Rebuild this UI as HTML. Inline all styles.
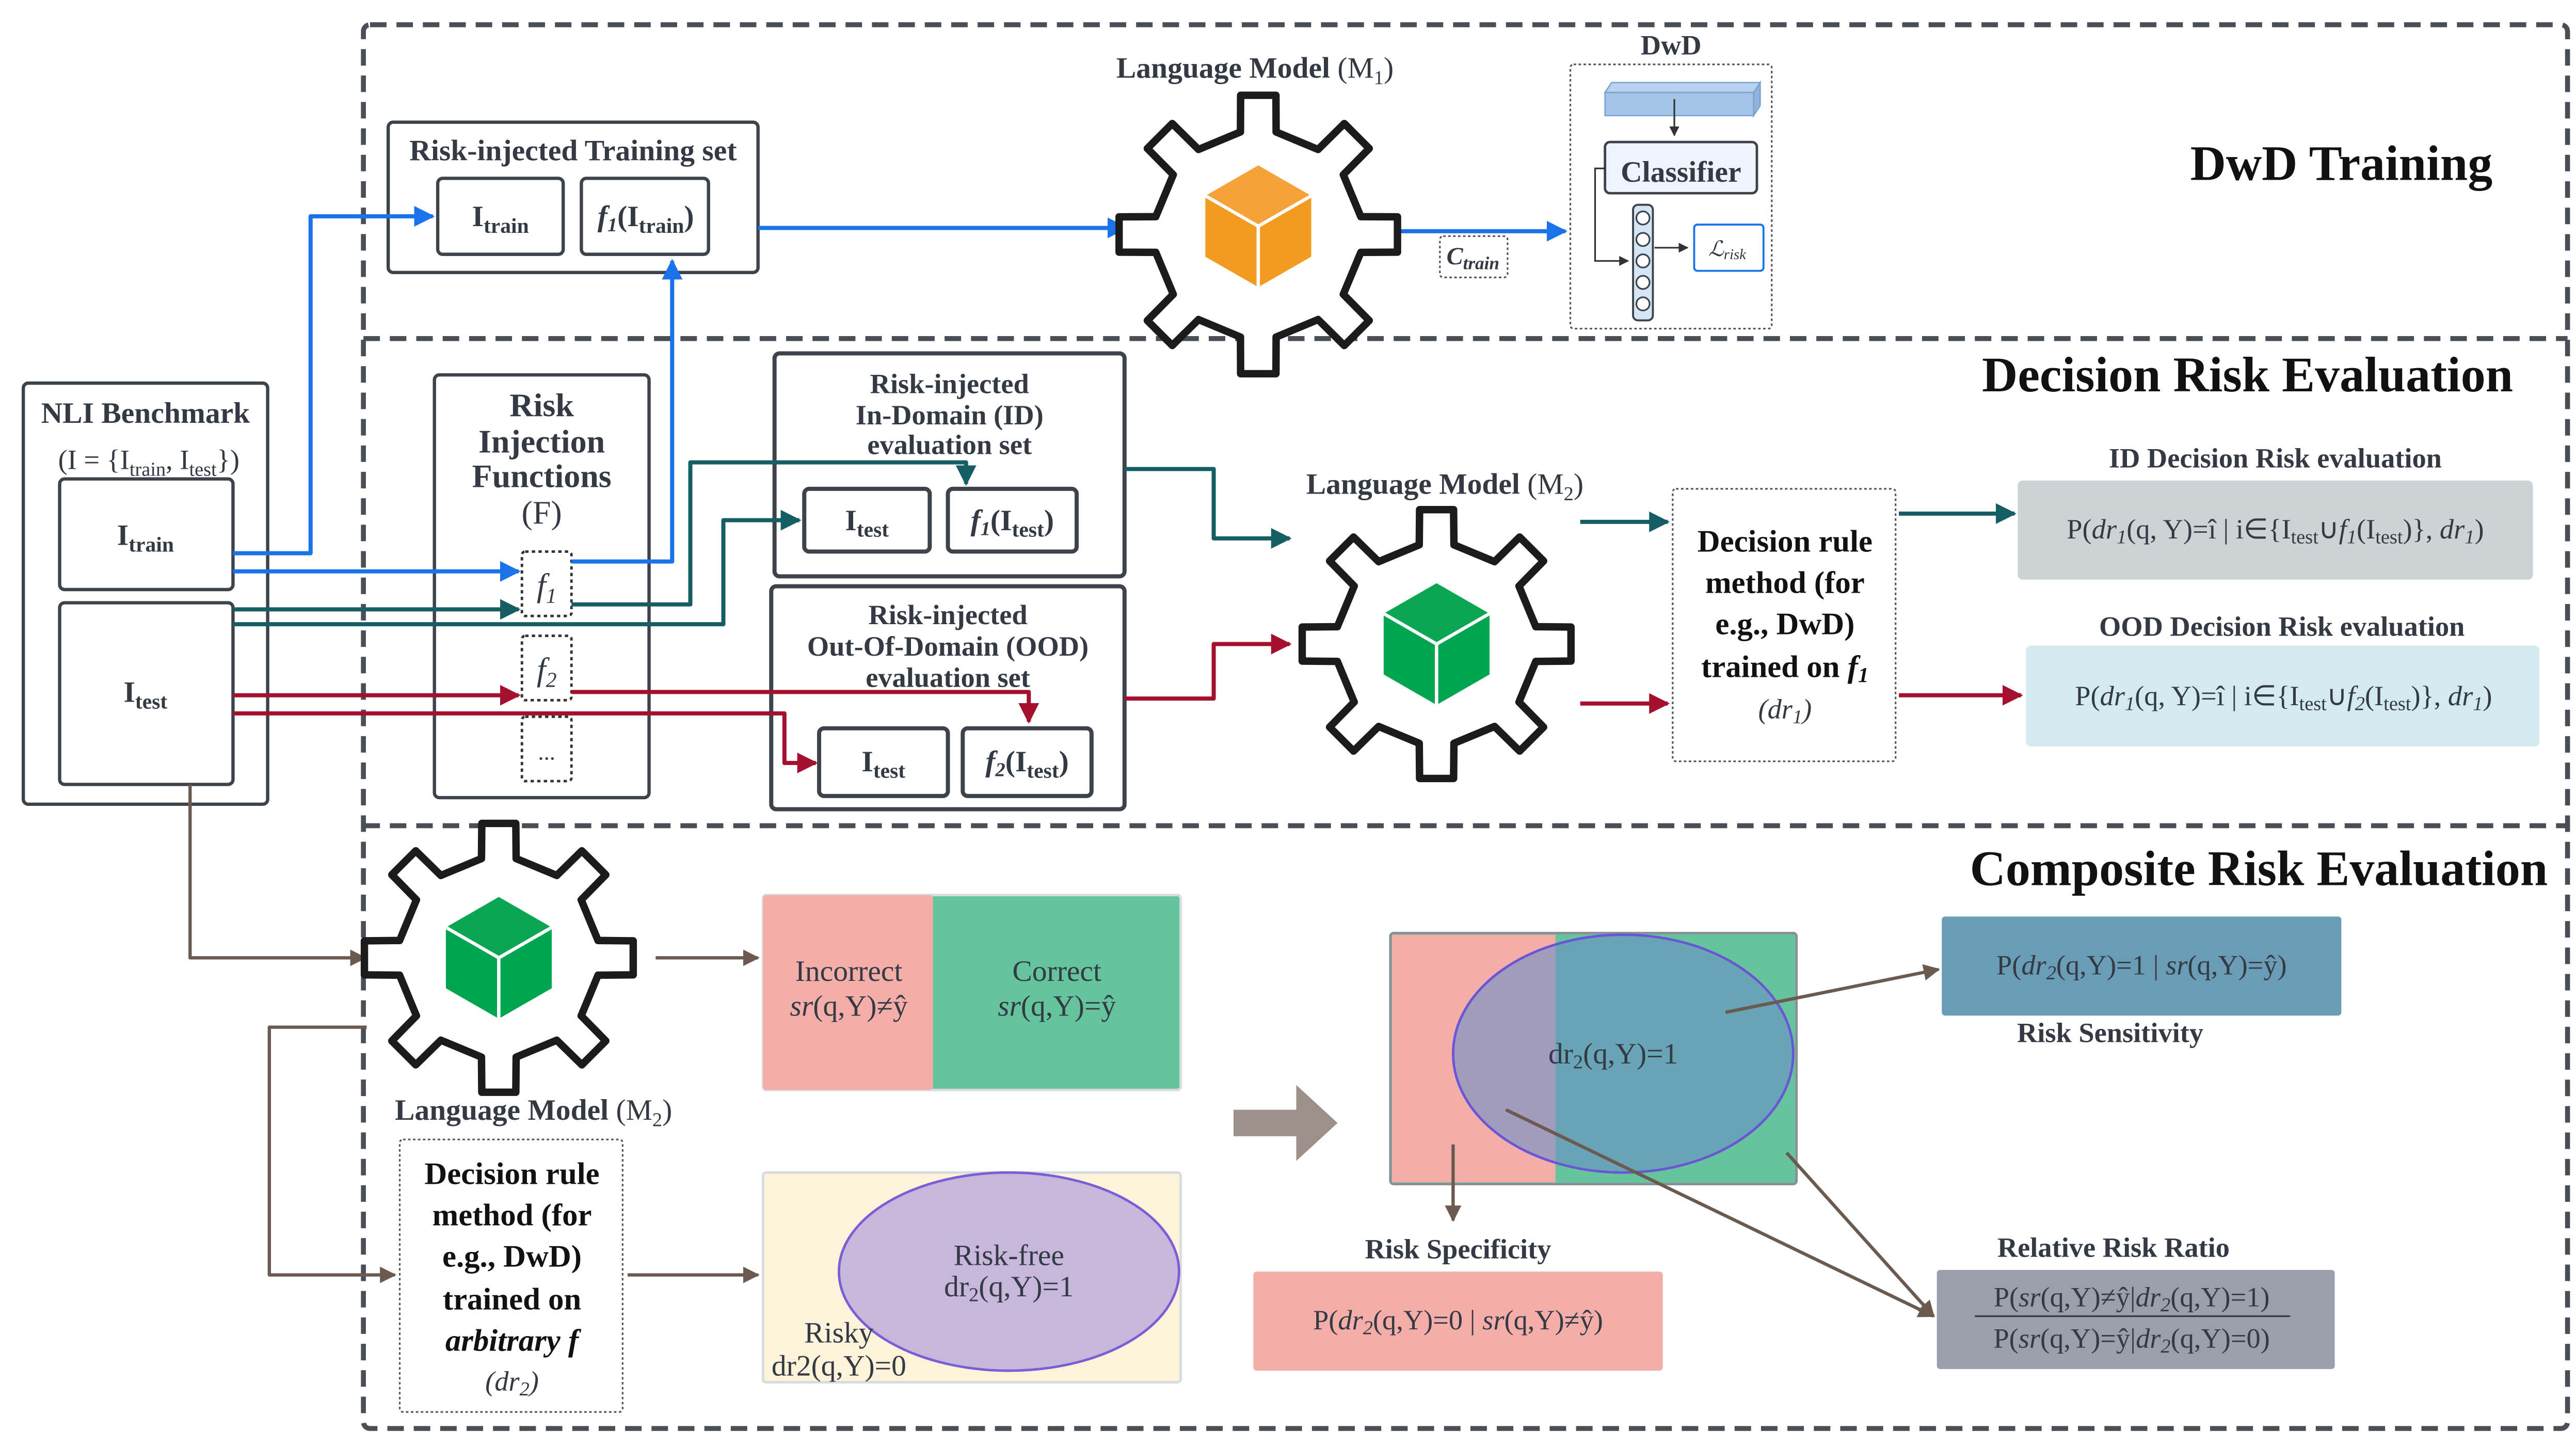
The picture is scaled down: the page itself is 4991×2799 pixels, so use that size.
<!DOCTYPE html>
<html><head><meta charset="utf-8"><style>
html,body{margin:0;padding:0;background:#fff;}
svg{display:block;font-family:"Liberation Serif",serif;}
.t{fill:#333a44;}
.b{font-weight:bold;}
</style></head><body>
<svg id="s" width="4991" height="2799" viewBox="0 0 1560 875" xmlns="http://www.w3.org/2000/svg">
<defs>
<marker id="ab" viewBox="0 0 10 10" refX="9" refY="5" markerWidth="5" markerHeight="5" orient="auto"><path d="M0,0L10,5L0,10z" fill="#1a73e8"/></marker>
<marker id="at" viewBox="0 0 10 10" refX="9" refY="5" markerWidth="5" markerHeight="5" orient="auto"><path d="M0,0L10,5L0,10z" fill="#155e63"/></marker>
<marker id="ar" viewBox="0 0 10 10" refX="9" refY="5" markerWidth="5" markerHeight="5" orient="auto"><path d="M0,0L10,5L0,10z" fill="#a3112e"/></marker>
<marker id="an" viewBox="0 0 10 10" refX="9" refY="5" markerWidth="5" markerHeight="5" orient="auto"><path d="M0,0L10,5L0,10z" fill="#6b5a50"/></marker>
<marker id="ak" viewBox="0 0 10 10" refX="9" refY="5" markerWidth="6" markerHeight="6" orient="auto"><path d="M0,0L10,5L0,10z" fill="#333"/></marker>
</defs>
<rect width="1560" height="875" fill="#fff"/>
<g fill="none" stroke="#4a4f57" stroke-width="3" stroke-dasharray="10 6">
<rect x="220" y="15" width="1335" height="850" rx="4"/>
<line x1="220" y1="205" x2="1555" y2="205"/>
<line x1="220" y1="500" x2="1555" y2="500"/>
</g>
<text x="1418" y="109" font-size="30" class="b" text-anchor="middle" fill="#111">DwD Training</text>
<text x="1522" y="237" font-size="30" class="b" text-anchor="end" fill="#111">Decision Risk Evaluation</text>
<text x="1543" y="536" font-size="30" class="b" text-anchor="end" fill="#111">Composite Risk Evaluation</text>

<g fill="none" stroke="#3d434b" stroke-width="2">
<rect x="14" y="232" width="148" height="255" rx="3"/>
<rect x="36" y="290" width="105" height="67" rx="3"/>
<rect x="36" y="365" width="105" height="110" rx="3"/>
<rect x="263" y="227" width="130" height="256" rx="3"/>
<rect x="235" y="74" width="224" height="91" rx="3"/>
<rect x="265" y="108" width="76" height="46" rx="3"/>
<rect x="352" y="108" width="77" height="46" rx="3"/>
<rect x="469" y="214" width="212" height="135" rx="3" stroke-width="2.5"/>
<rect x="487" y="296" width="76" height="38" rx="3" stroke-width="2.5"/>
<rect x="574" y="296" width="78" height="38" rx="3" stroke-width="2.5"/>
<rect x="467" y="355" width="214" height="135" rx="3" stroke-width="2.5"/>
<rect x="496" y="441" width="78" height="41" rx="3" stroke-width="2.5"/>
<rect x="583" y="441" width="78" height="41" rx="3" stroke-width="2.5"/>
</g>
<g fill="none" stroke="#333" stroke-width="1.5" stroke-dasharray="2 2">
<rect x="316" y="334" width="30" height="39" rx="2"/>
<rect x="316" y="385" width="30" height="39" rx="2"/>
<rect x="316" y="434" width="30" height="39" rx="2"/>
</g>
<g fill="none" stroke="#555" stroke-width="1" stroke-dasharray="1.5 1.5">
<rect x="951" y="39" width="122" height="160" rx="2"/>
<rect x="1013" y="296" width="135" height="165" rx="2"/>
<rect x="242" y="690" width="135" height="165" rx="2"/>
<rect x="872" y="143" width="41" height="25" rx="2"/>
</g>
<text x="88" y="256" font-size="18" class="b t" text-anchor="middle">NLI Benchmark</text>
<text x="90" y="284" font-size="17" class="t" text-anchor="middle">(I = {I<tspan font-size="12" dy="4">train</tspan><tspan dy="-4">, I</tspan><tspan font-size="12" dy="4">test</tspan><tspan dy="-4">})</tspan></text>
<text x="88" y="330" font-size="18" class="b t" text-anchor="middle">I<tspan font-size="13" dy="4">train</tspan></text>
<text x="88" y="425" font-size="18" class="b t" text-anchor="middle">I<tspan font-size="13" dy="4">test</tspan></text>
<g font-size="20" class="b t" text-anchor="middle">
<text x="328" y="252">Risk</text><text x="328" y="274">Injection</text><text x="328" y="295">Functions</text>
<text x="328" y="317" font-weight="normal">(F)</text></g>
<text x="331" y="361" font-size="20" font-style="italic" class="t" text-anchor="middle">f<tspan font-size="13" dy="4">1</tspan></text>
<text x="331" y="412" font-size="20" font-style="italic" class="t" text-anchor="middle">f<tspan font-size="13" dy="4">2</tspan></text>
<text x="331" y="460" font-size="14" class="t" text-anchor="middle">...</text>
<text x="347" y="97" font-size="18" class="b t" text-anchor="middle">Risk-injected Training set</text>
<text x="303" y="137" font-size="18" class="b t" text-anchor="middle">I<tspan font-size="13" dy="4">train</tspan></text>
<text x="391" y="137" font-size="18" class="b t" text-anchor="middle"><tspan font-style="italic">f<tspan font-size="12" dy="3">1</tspan></tspan><tspan dy="-3">(I</tspan><tspan font-size="13" dy="4">train</tspan><tspan dy="-4">)</tspan></text>
<g font-size="17" class="b t" text-anchor="middle">
<text x="575" y="238">Risk-injected</text><text x="575" y="257">In-Domain (ID)</text><text x="575" y="275">evaluation set</text>
<text x="574" y="378">Risk-injected</text><text x="574" y="397">Out-Of-Domain (OOD)</text><text x="574" y="416">evaluation set</text></g>
<text x="525" y="321" font-size="18" class="b t" text-anchor="middle">I<tspan font-size="13" dy="4">test</tspan></text>
<text x="613" y="321" font-size="18" class="b t" text-anchor="middle"><tspan font-style="italic">f<tspan font-size="12" dy="3">1</tspan></tspan><tspan dy="-3">(I</tspan><tspan font-size="13" dy="4">test</tspan><tspan dy="-4">)</tspan></text>
<text x="535" y="467" font-size="18" class="b t" text-anchor="middle">I<tspan font-size="13" dy="4">test</tspan></text>
<text x="622" y="467" font-size="18" class="b t" text-anchor="middle"><tspan font-style="italic">f<tspan font-size="12" dy="3">2</tspan></tspan><tspan dy="-3">(I</tspan><tspan font-size="13" dy="4">test</tspan><tspan dy="-4">)</tspan></text>

<g fill="none" stroke-width="2.5" stroke-linejoin="round">
<path d="M141,335H188V131H262" stroke="#1a73e8" marker-end="url(#ab)"/>
<path d="M141,346H314" stroke="#1a73e8" marker-end="url(#ab)"/>
<path d="M346,340H407V158" stroke="#1a73e8" marker-end="url(#ab)"/>
<path d="M459,138H682" stroke="#1a73e8" marker-end="url(#ab)"/>
<path d="M836,140H948" stroke="#1a73e8" marker-end="url(#ab)"/>
<path d="M141,369H314" stroke="#155e63" marker-end="url(#at)"/>
<path d="M346,366H418V280H585V293" stroke="#155e63" marker-end="url(#at)"/>
<path d="M141,378H438V315H484" stroke="#155e63" marker-end="url(#at)"/>
<path d="M681,284H735V326H781" stroke="#155e63" marker-end="url(#at)"/>
<path d="M957,316H1010" stroke="#155e63" marker-end="url(#at)"/>
<path d="M1150,311H1220" stroke="#155e63" marker-end="url(#at)"/>
<path d="M141,421H314" stroke="#a3112e" marker-end="url(#ar)"/>
<path d="M346,419H623V437" stroke="#a3112e" marker-end="url(#ar)"/>
<path d="M141,432H475V462H494" stroke="#a3112e" marker-end="url(#ar)"/>
<path d="M681,423H735V390H781" stroke="#a3112e" marker-end="url(#ar)"/>
<path d="M957,426H1010" stroke="#a3112e" marker-end="url(#ar)"/>
<path d="M1150,421H1224" stroke="#a3112e" marker-end="url(#ar)"/>
<g stroke="#6b5a50" stroke-width="2" marker-end="url(#an)">
<path d="M115,475V580H221"/>
<path d="M397,580H459"/>
<path d="M222,622H163V772H239"/>
<path d="M380,772H459"/>
</g>
</g>

<g id="gears" fill="#fff" stroke="#1b1b1b" stroke-width="4.5" stroke-linejoin="round"></g>
<g id="cubes"></g>
<text x="760" y="47" font-size="18" class="b t" text-anchor="middle">Language Model <tspan font-weight="normal">(M<tspan font-size="12" dy="4">1</tspan><tspan dy="-4">)</tspan></tspan></text>
<text x="875" y="299" font-size="18" class="b t" text-anchor="middle">Language Model <tspan font-weight="normal">(M<tspan font-size="12" dy="4">2</tspan><tspan dy="-4">)</tspan></tspan></text>
<text x="323" y="678" font-size="18" class="b t" text-anchor="middle">Language Model <tspan font-weight="normal">(M<tspan font-size="12" dy="4">2</tspan><tspan dy="-4">)</tspan></tspan></text>

<text x="1012" y="33" font-size="17" class="b t" text-anchor="middle">DwD</text>
<polygon points="972,56 1062,56 1066,50 976,50" fill="#b9d3ee" stroke="#7aa3cf" stroke-width="0.8"/>
<polygon points="1062,56 1066,50 1066,64 1062,70" fill="#8fb3da" stroke="#7aa3cf" stroke-width="0.8"/>
<rect x="972" y="56" width="90" height="14" fill="#a4c5e8" stroke="#7aa3cf" stroke-width="0.8"/>
<path d="M1014,60V82" stroke="#333" stroke-width="1" marker-end="url(#ak)" fill="none"/>
<rect x="972" y="86" width="92" height="31" rx="3" fill="#eef4fc" stroke="#3d434b" stroke-width="1.5"/>
<text x="1018" y="110" font-size="18" class="b t" text-anchor="middle">Classifier</text>
<path d="M972,102H966V158H986" stroke="#333" stroke-width="1" fill="none" marker-end="url(#ak)"/>
<rect x="989" y="124" width="12" height="70" rx="3" fill="#d6e4f7" stroke="#3d434b" stroke-width="1.2"/>
<g fill="#fff" stroke="#3d434b" stroke-width="1"><circle cx="995" cy="132" r="4"/><circle cx="995" cy="145" r="4"/><circle cx="995" cy="158" r="4"/><circle cx="995" cy="171" r="4"/><circle cx="995" cy="184" r="4"/></g>
<path d="M1002,150H1022" stroke="#333" stroke-width="1" fill="none" marker-end="url(#ak)"/>
<rect x="1026" y="136" width="42" height="28" rx="2" fill="#fff" stroke="#1a73e8" stroke-width="1.2"/>
<text x="1046" y="155" font-size="13" font-style="italic" class="t" text-anchor="middle">ℒ<tspan font-size="9" dy="2">risk</tspan></text>
<text x="892" y="160" font-size="15" font-style="italic" class="b t" text-anchor="middle">C<tspan font-size="11" dy="3">train</tspan></text>

<g font-size="19" class="b" fill="#111" text-anchor="middle">
<text x="1081" y="334">Decision rule</text><text x="1081" y="359">method (for</text><text x="1081" y="384">e.g., DwD)</text><text x="1081" y="410">trained on <tspan font-style="italic">f<tspan font-size="13" dy="3">1</tspan></tspan></text>
<text x="310" y="717">Decision rule</text><text x="310" y="742">method (for</text><text x="310" y="767">e.g., DwD)</text><text x="310" y="793">trained on</text><text x="310" y="818" font-style="italic">arbitrary f</text>
</g>
<text x="1081" y="435" font-size="17" font-style="italic" class="t" text-anchor="middle">(dr<tspan font-size="12" dy="3">1</tspan><tspan dy="-3">)</tspan></text>
<text x="310" y="842" font-size="17" font-style="italic" class="t" text-anchor="middle">(dr<tspan font-size="12" dy="3">2</tspan><tspan dy="-3">)</tspan></text>

<text x="1378" y="283" font-size="17" class="b t" text-anchor="middle">ID Decision Risk evaluation</text>
<rect x="1222" y="291" width="312" height="60" rx="3" fill="#cdd3d5"/>
<text x="1378" y="326" font-size="17" class="t" text-anchor="middle">P(<tspan font-style="italic">dr<tspan font-size="12" dy="3">1</tspan></tspan><tspan dy="-3">(q, Y)=î | i∈{I</tspan><tspan font-size="12" dy="3">test</tspan><tspan dy="-3">∪</tspan><tspan font-style="italic">f<tspan font-size="12" dy="3">1</tspan></tspan><tspan dy="-3">(I</tspan><tspan font-size="12" dy="3">test</tspan><tspan dy="-3">)}, </tspan><tspan font-style="italic">dr<tspan font-size="12" dy="3">1</tspan></tspan><tspan dy="-3">)</tspan></text>
<text x="1382" y="385" font-size="17" class="b t" text-anchor="middle">OOD Decision Risk evaluation</text>
<rect x="1227" y="391" width="311" height="61" rx="3" fill="#d3ebee"/>
<text x="1383" y="427" font-size="17" class="t" text-anchor="middle">P(<tspan font-style="italic">dr<tspan font-size="12" dy="3">1</tspan></tspan><tspan dy="-3">(q, Y)=î | i∈{I</tspan><tspan font-size="12" dy="3">test</tspan><tspan dy="-3">∪</tspan><tspan font-style="italic">f<tspan font-size="12" dy="3">2</tspan></tspan><tspan dy="-3">(I</tspan><tspan font-size="12" dy="3">test</tspan><tspan dy="-3">)}, </tspan><tspan font-style="italic">dr<tspan font-size="12" dy="3">1</tspan></tspan><tspan dy="-3">)</tspan></text>

<rect x="462" y="542" width="253" height="118" rx="2" fill="#66c49c" stroke="#d8dcdf" stroke-width="1.5"/>
<rect x="462" y="542" width="103" height="118" rx="2" fill="#f4aeaa"/>
<g font-size="18" class="t" text-anchor="middle">
<text x="514" y="594">Incorrect</text><text x="514" y="615"><tspan font-style="italic">sr</tspan>(q,Y)≠ŷ</text>
<text x="640" y="594">Correct</text><text x="640" y="615"><tspan font-style="italic">sr</tspan>(q,Y)=ŷ</text></g>
<rect x="462" y="710" width="253" height="127" rx="2" fill="#fdf3da" stroke="#d8dcdf" stroke-width="1.5"/>
<ellipse cx="611" cy="770" rx="103" ry="60" fill="#c6b7db" stroke="#7b5ed6" stroke-width="1.5"/>
<g font-size="18" class="t" text-anchor="middle">
<text x="611" y="766">Risk-free</text><text x="611" y="785">dr<tspan font-size="12" dy="3">2</tspan><tspan dy="-3">(q,Y)=1</tspan></text>
<text x="508" y="813">Risky</text><text x="508" y="833">dr2(q,Y)=0</text></g>
<path d="M747,672H785V657L810,680L785,703V688H747Z" fill="#9b918a"/>
<rect x="842" y="565" width="246" height="152" rx="2" fill="#66c49c" stroke="#8a9097" stroke-width="1.5"/>
<rect x="843" y="566" width="99" height="150" fill="#f4aeaa"/>
<ellipse cx="983" cy="638" rx="103" ry="72" fill="#6a8fc8" fill-opacity="0.6" stroke="#6a55d6" stroke-width="1.5"/>
<text x="977" y="644" font-size="18" class="t" text-anchor="middle">dr<tspan font-size="12" dy="3">2</tspan><tspan dy="-3">(q,Y)=1</tspan></text>
<g stroke="#6b5a50" stroke-width="2" fill="none" marker-end="url(#an)">
<path d="M1045,613L1174,587"/>
<path d="M880,693V739"/>
<path d="M912,672L1171,797"/>
<path d="M1082,698L1171,797"/>
</g>
<rect x="1176" y="555" width="242" height="60" rx="2" fill="#6a9db5"/>
<text x="1297" y="590" font-size="17" class="t" text-anchor="middle">P(<tspan font-style="italic">dr<tspan font-size="12" dy="3">2</tspan></tspan><tspan dy="-3">(q,Y)=1 | </tspan><tspan font-style="italic">sr</tspan>(q,Y)=ŷ)</text>
<text x="1278" y="631" font-size="17" class="b t" text-anchor="middle">Risk Sensitivity</text>
<text x="883" y="762" font-size="17" class="b t" text-anchor="middle">Risk Specificity</text>
<rect x="759" y="770" width="248" height="60" rx="2" fill="#f4aeaa"/>
<text x="883" y="805" font-size="17" class="t" text-anchor="middle">P(<tspan font-style="italic">dr<tspan font-size="12" dy="3">2</tspan></tspan><tspan dy="-3">(q,Y)=0 | </tspan><tspan font-style="italic">sr</tspan>(q,Y)≠ŷ)</text>
<text x="1280" y="761" font-size="17" class="b t" text-anchor="middle">Relative Risk Ratio</text>
<rect x="1173" y="769" width="241" height="60" rx="2" fill="#9aa0ab"/>
<text x="1291" y="791" font-size="17" class="t" text-anchor="middle">P(<tspan font-style="italic">sr</tspan>(q,Y)≠ŷ|<tspan font-style="italic">dr<tspan font-size="12" dy="3">2</tspan></tspan><tspan dy="-3">(q,Y)=1)</tspan></text>
<line x1="1196" y1="797" x2="1387" y2="797" stroke="#333a44" stroke-width="1"/>
<text x="1291" y="816" font-size="17" class="t" text-anchor="middle">P(<tspan font-style="italic">sr</tspan>(q,Y)=ŷ|<tspan font-style="italic">dr<tspan font-size="12" dy="3">2</tspan></tspan><tspan dy="-3">(q,Y)=0)</tspan></text>
</svg>
<script>
(function(){
var NS="http://www.w3.org/2000/svg";
function gear(cx,cy,R,r,n){
 var pts=[],step=2*Math.PI/n,w1=step*0.16,w2=step*0.22;
 for(var i=0;i<n;i++){
  var a=i*step-Math.PI/2;
  [[a-w2,r],[a-w1,R],[a+w1,R],[a+w2,r]].forEach(function(p){
   pts.push((cx+p[1]*Math.cos(p[0])).toFixed(1)+","+(cy+p[1]*Math.sin(p[0])).toFixed(1));});
 }
 var pg=document.createElementNS(NS,"polygon");pg.setAttribute("points",pts.join(" "));
 document.getElementById("gears").appendChild(pg);
}
function cube(cx,cy,s,c1,c2,c3){
 var g=document.getElementById("cubes");
 function poly(p,f){var e=document.createElementNS(NS,"polygon");e.setAttribute("points",p);e.setAttribute("fill",f);e.setAttribute("stroke","#fff");e.setAttribute("stroke-width","2");e.setAttribute("stroke-linejoin","round");g.appendChild(e);}
 var top=[cx,cy-s],tl=[cx-s*0.87,cy-s*0.5],tr=[cx+s*0.87,cy-s*0.5],c=[cx,cy],bl=[cx-s*0.87,cy+s*0.5],br=[cx+s*0.87,cy+s*0.5],bot=[cx,cy+s];
 function j(a){return a.map(function(p){return p.join(",")}).join(" ");}
 poly(j([top,tr,c,tl]),c1);poly(j([tl,c,bot,bl]),c2);poly(j([c,tr,br,bot]),c3);
}
gear(762,142,85,63,8);gear(870,390,82,61,8);gear(302,580,82,61,8);
cube(762,137,38,"#f7a239","#f39a21","#f39a21");
cube(870,390,38,"#0aa654","#00a550","#00a550");
cube(302,580,38,"#0aa654","#00a550","#00a550");
})();
</script>
</body></html>
